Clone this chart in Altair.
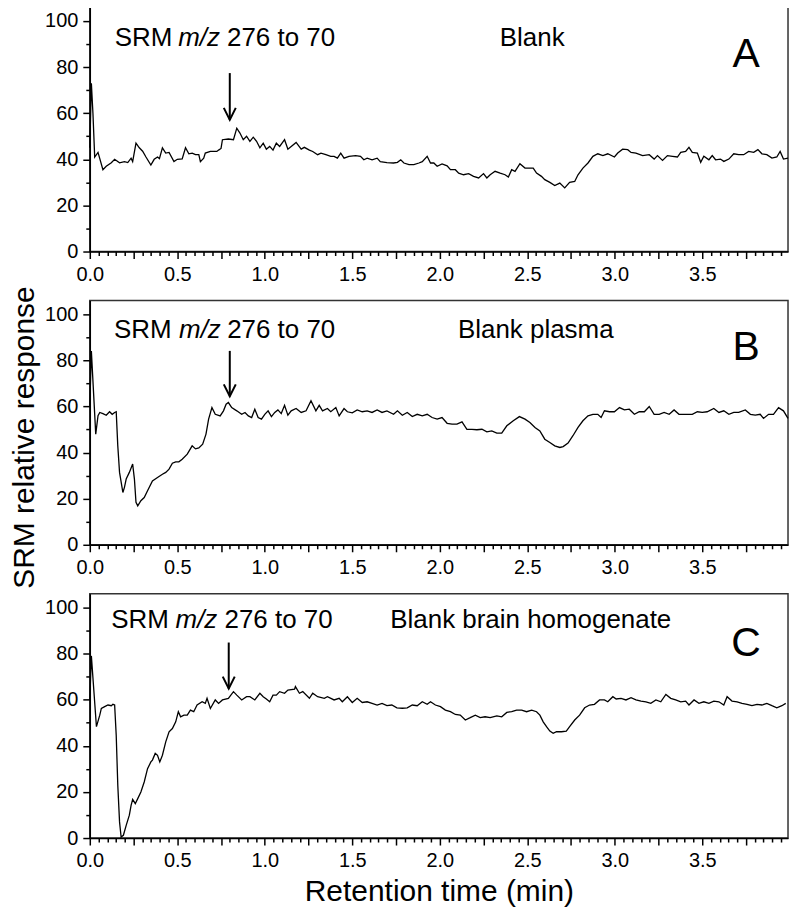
import altair as alt
import pandas as pd

# ---------------- data ----------------
a_t = [0.0, 0.009, 0.018, 0.028, 0.047, 0.075, 0.094, 0.123, 0.142, 0.17, 0.198, 0.217, 0.236, 0.245, 0.264, 0.283, 0.302, 0.321, 0.349, 0.368, 0.387, 0.398, 0.415, 0.434, 0.453, 0.481, 0.5, 0.528, 0.547, 0.566, 0.585, 0.604, 0.623, 0.632, 0.651, 0.66, 0.689, 0.726, 0.736, 0.75, 0.758, 0.792, 0.821, 0.84, 0.858, 0.877, 0.896, 0.915, 0.934, 0.953, 0.972, 0.991, 1.009, 1.028, 1.047, 1.066, 1.085, 1.113, 1.132, 1.151, 1.179, 1.208, 1.226, 1.255, 1.274, 1.302, 1.321, 1.349, 1.377, 1.396, 1.415, 1.434, 1.453, 1.481, 1.519, 1.547, 1.566, 1.585, 1.613, 1.642, 1.66, 1.698, 1.736,
       1.758, 1.777, 1.795, 1.824, 1.852, 1.881, 1.9, 1.928, 1.947, 1.966, 1.985, 2.013, 2.042, 2.061, 2.089, 2.108, 2.136, 2.165, 2.193, 2.222, 2.25, 2.269, 2.288, 2.316, 2.345, 2.373, 2.392, 2.411, 2.43, 2.458, 2.487, 2.515, 2.534, 2.553, 2.581, 2.6, 2.629, 2.657, 2.686, 2.714, 2.742, 2.771, 2.79, 2.818, 2.847, 2.875, 2.903, 2.932, 2.96, 2.998, 3.017, 3.045, 3.074, 3.093, 3.121, 3.159, 3.197, 3.225, 3.244, 3.273, 3.301, 3.33, 3.358, 3.377, 3.405, 3.424, 3.443, 3.472, 3.491, 3.509, 3.538, 3.557, 3.576, 3.604, 3.623, 3.652, 3.68, 3.708, 3.737, 3.765, 3.794, 3.818, 3.841, 3.869, 3.898, 3.926, 3.945, 3.964, 3.99]
a_v = [45, 73, 60, 41, 43, 35.5, 37, 38.5, 40, 38.5, 39, 38.6, 40.5, 39, 47, 45, 43.5, 41, 37.5, 40, 41, 40.3, 45, 42.7, 43, 39, 40, 40.2, 45, 42.4, 42.7, 42, 42, 39, 40.5, 42.7, 43.4, 43.4, 44, 44.7, 48.5, 48.8, 48.5, 53.5, 51.4, 48.5, 50, 47.8, 49.6, 47.8, 45, 47, 44.4, 45.6, 44, 47, 45.6, 48.5, 44.4, 45.6, 47.3, 44.4, 45.2, 44, 43.4, 42, 42.7, 42, 41.3, 41.3, 40.5, 42.7, 40.5, 41.3, 41.6, 41.3, 39.8, 40.5, 39.8, 40.5, 39, 38.6, 38.4,
       38.7, 39.8, 38.4, 37.7, 37.7, 38.4, 39, 41.3, 38.4, 38.4, 37, 38, 37.2, 35.5, 35.5, 34, 33.3, 33.8, 32.6, 31.9, 33.8, 31.9, 33.3, 34.8, 34, 33.3, 32.3, 35.5, 34.8, 38.1, 36.2, 36.2, 36.2, 34, 32.6, 31.2, 30, 28.6, 29.7, 27.6, 30, 30.4, 33.3, 36.2, 38.4, 41.3, 42.4, 41.6, 42.4, 41, 42.7, 44.4, 44.2, 43, 42.7, 41.6, 42, 40.1, 41.6, 39.5, 41.6, 41.3, 41, 43, 43.4, 45.2, 43, 42.7, 38.7, 41.3, 39.8, 41.6, 39.8, 40.1, 39.1, 40.1, 42.4, 42, 42, 43.4, 43, 44.2, 42.4, 42, 40.5, 41, 43.4, 40.1, 40.5]

b_t = [0.0, 0.009, 0.034, 0.047, 0.057, 0.075, 0.094, 0.113, 0.128, 0.142, 0.151, 0.16, 0.17, 0.189, 0.198, 0.208, 0.226, 0.245, 0.255, 0.264, 0.274, 0.292, 0.311, 0.33, 0.358, 0.387, 0.415, 0.434, 0.453, 0.472, 0.491, 0.509, 0.528, 0.557, 0.585, 0.604, 0.623, 0.645, 0.664, 0.679, 0.698, 0.717, 0.745, 0.764, 0.779, 0.792, 0.811, 0.84, 0.868, 0.887, 0.906, 0.925, 0.943, 0.962, 0.981, 1.0, 1.019, 1.038, 1.057, 1.075, 1.094, 1.113, 1.132, 1.151, 1.179, 1.208, 1.236, 1.264, 1.292, 1.311, 1.33, 1.358, 1.377, 1.406, 1.425, 1.453, 1.472, 1.5, 1.528, 1.557, 1.585, 1.613, 1.642, 1.67, 1.698, 1.736,
       1.758, 1.786, 1.814, 1.843, 1.871, 1.9, 1.928, 1.956, 1.985, 2.013, 2.042, 2.07, 2.098, 2.127, 2.155, 2.184, 2.212, 2.241, 2.269, 2.297, 2.326, 2.354, 2.383, 2.42, 2.455, 2.487, 2.515, 2.544, 2.572, 2.6, 2.629, 2.657, 2.686, 2.705, 2.733, 2.761, 2.79, 2.818, 2.847, 2.875, 2.903, 2.922, 2.941, 2.97, 2.998, 3.027, 3.055, 3.083, 3.112, 3.14, 3.169, 3.197, 3.225, 3.254, 3.282, 3.311, 3.339, 3.367, 3.405, 3.443, 3.472, 3.5, 3.528, 3.566, 3.595, 3.623, 3.652, 3.68, 3.708, 3.746, 3.775, 3.803, 3.831, 3.85, 3.879, 3.907, 3.936, 3.964, 3.99]
b_v = [60.3, 84, 48, 56, 57.4, 56.9, 56.2, 57.7, 56.6, 57.4, 57.7, 42.9, 31.4, 22.7, 24.9, 28.5, 31.4, 35, 28.5, 18.4, 16.9, 19.1, 20.5, 23.4, 27.7, 29.2, 30.6, 31.4, 32.8, 35.4, 36, 36, 37.1, 39.3, 42.9, 41.6, 42, 43.6, 48, 54.5, 59.5, 56.6, 55.9, 58.1, 61, 61.7, 59.5, 58.1, 56.6, 57.4, 55.9, 55.2, 58.8, 55.2, 54.5, 56.6, 58.1, 55.6, 57.4, 58.5, 56.9, 60.5, 56.2, 58.1, 59.1, 57.4, 58.1, 62.5, 58.1, 60.5, 58.1, 59.1, 57.7, 59.5, 55.9, 59.1, 57.7, 57.2, 58.5, 57.7, 58.1, 57.4, 58.5, 57.4, 58.1, 56.6,
       58.1, 56.2, 57.4, 55.6, 56.6, 55.9, 56.6, 55.2, 54.5, 55.2, 52.7, 52.3, 52.3, 53.3, 50.1, 50.1, 49.9, 50.1, 49, 49.4, 48.4, 48.4, 51.6, 53.8, 55.6, 54.5, 53, 50.9, 49.4, 45.8, 44.4, 42.9, 42.2, 42.6, 44.1, 47.3, 50.9, 53.8, 55.9, 56.6, 56.6, 55.2, 58.1, 57.7, 57.7, 59.5, 58.5, 58.8, 56.6, 57.7, 57.7, 60, 56.6, 56.6, 57.4, 56.6, 58.5, 56.6, 56.6, 56.6, 57.7, 57.4, 57.7, 59.1, 57.4, 58.1, 56.6, 57.4, 57.4, 58.5, 56.6, 56.2, 56.6, 54.8, 56.6, 56.6, 59.5, 58.1, 54.8]

c_t = [0.0, 0.009, 0.038, 0.057, 0.066, 0.085, 0.104, 0.123, 0.132, 0.142, 0.151, 0.16, 0.17, 0.179, 0.192, 0.208, 0.226, 0.236, 0.245, 0.26, 0.274, 0.292, 0.311, 0.33, 0.349, 0.358, 0.374, 0.387, 0.4, 0.415, 0.434, 0.453, 0.472, 0.491, 0.506, 0.519, 0.538, 0.557, 0.575, 0.594, 0.613, 0.642, 0.66, 0.67, 0.689, 0.717, 0.736, 0.758, 0.792, 0.821, 0.84, 0.868, 0.896, 0.915, 0.943, 0.972, 0.991, 1.009, 1.028, 1.047, 1.066, 1.085, 1.113, 1.132, 1.17, 1.175, 1.198, 1.217, 1.255, 1.274, 1.302, 1.34, 1.358, 1.396, 1.425, 1.443, 1.472, 1.5, 1.528, 1.557, 1.585, 1.613, 1.642, 1.67, 1.698, 1.726, 1.755,
       1.786, 1.814, 1.843, 1.871, 1.9, 1.928, 1.947, 1.975, 2.004, 2.032, 2.061, 2.089, 2.117, 2.146, 2.174, 2.203, 2.231, 2.259, 2.288, 2.326, 2.354, 2.383, 2.411, 2.439, 2.468, 2.496, 2.525, 2.553, 2.572, 2.591, 2.61, 2.629, 2.648, 2.667, 2.695, 2.723, 2.742, 2.771, 2.799, 2.828, 2.856, 2.884, 2.913, 2.941, 2.96, 2.989, 3.008, 3.036, 3.064, 3.093, 3.121, 3.15, 3.178, 3.206, 3.235, 3.263, 3.292, 3.32, 3.348, 3.377, 3.405, 3.424, 3.453, 3.481, 3.509, 3.538, 3.566, 3.595, 3.623, 3.642, 3.67, 3.699, 3.727, 3.756, 3.784, 3.813, 3.841, 3.869, 3.898, 3.926, 3.955, 3.977]
c_v = [59.9, 79, 48.3, 53.3, 56.2, 57, 57.7, 57.4, 58, 57.7, 44.6, 22.9, 7, 0.4, 1.2, 5.5, 9.9, 14.2, 16.8, 14.9, 17.1, 20, 24.3, 30.1, 33, 33.8, 36.7, 35.9, 33, 35.9, 41.7, 46.1, 47.5, 50.4, 54.8, 52.6, 53.3, 53.3, 55.5, 54.8, 57.7, 59.1, 58.4, 60.6, 56.2, 59.9, 58.4, 59.9, 60.6, 63.5, 62, 59.9, 61.3, 61.3, 59.9, 62.8, 61.3, 60.3, 59.1, 62, 62, 63.5, 62.8, 64.2, 64.6, 65.7, 62.8, 63.5, 60.6, 62.8, 61.3, 60.6, 61.3, 59.9, 60.6, 59.1, 61.3, 58.8, 60.6, 58.8, 59.1, 58.4, 57.7, 58.4, 57.4, 57.7, 56.5,
       56.3, 56.5, 57.7, 57.4, 59.1, 58, 59.1, 57.7, 57, 55.5, 54.8, 53.6, 53.3, 51.2, 52.2, 53.3, 52.2, 52.6, 52.2, 53, 52.6, 54.5, 54.8, 55.5, 55.5, 54.8, 55.5, 54.8, 53.3, 50.4, 48.3, 46.4, 45.4, 46.1, 46.1, 46.4, 48.3, 51.2, 53.3, 56.5, 57.7, 58, 59.9, 59.9, 59.1, 61.3, 60.3, 60.6, 59.9, 60.9, 59.9, 59.4, 59.1, 58.4, 59.9, 59.1, 62.3, 60.6, 59.9, 59.1, 59.4, 57.7, 59.9, 58.4, 59.1, 58.4, 59.4, 59.1, 57.7, 61.3, 59.4, 59.1, 58.4, 58, 57.4, 58, 57.7, 58.4, 57.4, 56.5, 57.4, 58.4]

# annotations per panel: A, B, C
panel_letters = ["A", "B", "C"]
sample_names = ["Blank", "Blank plasma", "Blank brain homogenate"]
sample_x = [2.343, 2.104, 1.717]
label_y = [89.0, 89.5, 90.9]
srm_x = [0.142, 0.138, 0.123]
mz_x = [0.505, 0.51, 0.49]
num_x = [0.784, 0.785, 0.77]
letter_x = [3.75, 3.75, 3.75]
letter_y = [80.0, 80.0, 79.0]
arrow_x = [0.8, 0.8, 0.794]
arrow_top = [77.4, 84.1, 84.8]
arrow_tip = [57.1, 64.4, 64.8]

x_ticks = [round(i * 0.05, 2) for i in range(80)]
y_ticks = [0, 10, 20, 30, 40, 50, 60, 70, 80, 90, 100]

FONT = "Liberation Sans"
W, H = 700, 245

xscale = alt.Scale(domain=[0, 3.99], nice=False, zero=False)
yscale = alt.Scale(domain=[0, 106], nice=False, zero=False)


def make_axes(show_xtitle, show_ytitle):
    xargs = dict(
        values=x_ticks,
        labelExpr="abs(datum.value*2 - round(datum.value*2)) < 0.001 ? format(datum.value, '.1f') : ''",
        tickSize={"condition": {"test": "abs(datum.value*4 - round(datum.value*4)) < 0.001", "value": 7}, "value": 4},
        labelOverlap=False,
        labelFlush=False,
        labelPadding=6,
        grid=False,
        titlePadding=6,
        title="Retention time (min)" if show_xtitle else None,
    )
    yargs = dict(
        values=y_ticks,
        labelExpr="datum.value % 20 == 0 ? datum.label : ''",
        tickSize={"condition": {"test": "datum.value % 20 == 0", "value": 7}, "value": 4},
        labelOverlap=False,
        labelFlush=False,
        labelPadding=5,
        grid=False,
        titlePadding=5,
        title="SRM relative response" if show_ytitle else None,
    )
    if show_ytitle:
        yargs["titleY"] = 137
    return alt.Axis(**xargs), alt.Axis(**yargs)


def panel(i, t, v, show_xtitle, show_ytitle):
    xaxis, yaxis = make_axes(show_xtitle, show_ytitle)
    X = lambda f: alt.X(f, type="quantitative", scale=xscale, axis=xaxis)
    Y = lambda f: alt.Y(f, type="quantitative", scale=yscale, axis=yaxis)

    df = pd.DataFrame({"t": t, "v": v})
    line = alt.Chart(df).mark_line(color="black", strokeWidth=1.3, interpolate="linear").encode(
        x=X("t"), y=Y("v"))

    txt = pd.DataFrame({
        "x": [srm_x[i], mz_x[i], num_x[i], sample_x[i]],
        "y": [label_y[i]] * 4,
        "s": ["SRM", "m/z", "276 to 70", sample_names[i]],
        "italic": ["normal", "italic", "normal", "normal"],
    })
    normal = alt.Chart(txt[txt["italic"] == "normal"]).mark_text(
        align="left", baseline="alphabetic", font=FONT, fontSize=26, color="black").encode(
        x=X("x"), y=Y("y"), text="s:N")
    ital = alt.Chart(txt[txt["italic"] == "italic"]).mark_text(
        align="left", baseline="alphabetic", font=FONT, fontSize=26, fontStyle="italic", color="black").encode(
        x=X("x"), y=Y("y"), text="s:N")

    let = alt.Chart(pd.DataFrame({"x": [letter_x[i]], "y": [letter_y[i]], "s": [panel_letters[i]]})).mark_text(
        align="center", baseline="alphabetic", font=FONT, fontSize=41, color="black").encode(
        x=X("x"), y=Y("y"), text="s:N")

    arr = pd.DataFrame({"x": [arrow_x[i]], "y": [arrow_top[i]], "y2": [arrow_tip[i]]})
    shaft = alt.Chart(arr).mark_rule(color="black", strokeWidth=2).encode(
        x=X("x"), y=Y("y"), y2="y2")
    head = alt.Chart(arr).mark_point(
        shape="M-1,-2L0,0L1,-2", size=144, filled=False, stroke="black", strokeWidth=2, opacity=1).encode(
        x=X("x"), y=Y("y2"))

    return alt.layer(line, normal, ital, let, shaft, head).properties(width=W, height=H)


pA = panel(0, a_t, a_v, False, False)
pB = panel(1, b_t, b_v, False, True)
pC = panel(2, c_t, c_v, True, False)

chart = alt.vconcat(pA, pB, pC, spacing=49, bounds="flush").properties(
    padding={"left": 0, "top": -3, "right": 0, "bottom": 0}
).configure(
    font=FONT,
).configure_view(
    stroke="#333333", strokeWidth=1.5,
).configure_axis(
    labelFont=FONT, labelFontSize=20, labelColor="black",
    titleFont=FONT, titleFontSize=30, titleFontWeight="normal", titleColor="black",
    domainColor="black", domainWidth=1.5, tickColor="black", tickWidth=1.5,
)

chart.save("out.html", embed_options={"renderer": "svg", "actions": False})
